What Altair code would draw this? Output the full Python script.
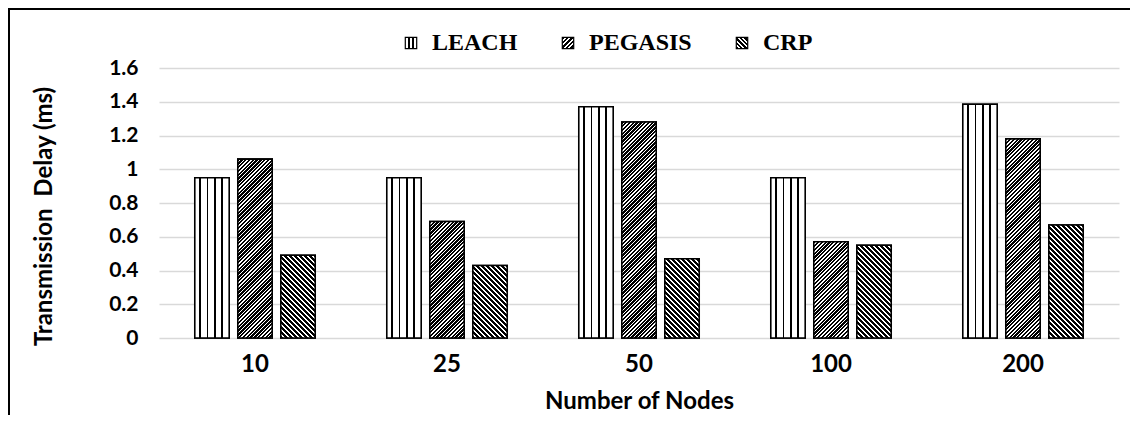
import math
import altair as alt
import pandas as pd

# ---- data ----
nodes = ["10", "25", "50", "100", "200"]
series = ["LEACH", "PEGASIS", "CRP"]
leach = [0.95, 0.95, 1.37, 0.95, 1.385]
pegasis = [1.06, 0.69, 1.28, 0.57, 1.18]
crp = [0.49, 0.43, 0.47, 0.55, 0.67]
y_ticks = [0, 0.2, 0.4, 0.6, 0.8, 1.0, 1.2, 1.4, 1.6]

rows = []
for name, vals in zip(series, [leach, pegasis, crp]):
    for n, v in zip(nodes, vals):
        rows.append({"Nodes": n, "Series": name, "Value": v})
df = pd.DataFrame(rows)

# ---- hatch fills built as hard-stop linear gradients ----
def fmt(v):
    return ("%.5f" % v).rstrip("0").rstrip(".") if isinstance(v, float) else str(v)

def grad_obj(x1, y1, x2, y2, stops):
    s = ",".join("{offset:%s,color:'%s'}" % (fmt(min(o, 1.0)), c) for o, c in stops)
    return "{gradient:'linear',x1:%s,y1:%s,x2:%s,y2:%s,stops:[%s]}" % (x1, y1, x2, y2, s)

def stripe_stops(period, dark, length):
    stops = []
    n = int(math.ceil(length / period))
    for k in range(n):
        a = k * period / length
        b = (k * period + dark * period) / length
        e = (k + 1) * period / length
        stops += [(a, "black"), (b, "black"), (b, "white"), (e, "white")]
    return stops

def line_stops(centers, half):
    stops = [(0.0, "white")]
    for c in centers:
        stops += [(c - half, "white"), (c - half, "black"), (c + half, "black"), (c + half, "white")]
    stops.append((1.0, "white"))
    return stops

L = 360.0
W = "bandwidth('xOffset')"
H = "(scale('y',0)-scale('y',datum.Value))"
C = "(%s/(%s*%s+%s*%s))" % (fmt(L), W, W, H, H)

leach_bar = grad_obj(0, 0, 1, 0, line_stops([0.16, 0.37, 0.58, 0.79], 0.028))
peg_bar = grad_obj(0, 0, "%s*%s" % (C, W), "%s*%s" % (C, H), stripe_stops(3.8, 0.6, L))
crp_bar = grad_obj(0, 1, "%s*%s" % (C, W), "1-%s*%s" % (C, H), stripe_stops(5.0, 0.5, L))

bar_fill = "datum.Series==='LEACH'?%s:(datum.Series==='PEGASIS'?%s:%s)" % (leach_bar, peg_bar, crp_bar)

leach_leg = grad_obj(0, 0, 1, 0, line_stops([0.35, 0.65], 0.08))
peg_leg = grad_obj(0, 0, 1, 1, stripe_stops(4.0, 0.55, 20.0))
crp_leg = grad_obj(0, 1, 1, 0, stripe_stops(4.0, 0.55, 20.0))

x_enc = alt.X(
    "Nodes:N",
    sort=nodes,
    scale=alt.Scale(paddingInner=0.328, paddingOuter=0.164),
    axis=alt.Axis(
        labelAngle=0, domain=False, ticks=False, grid=False,
        labelFont="Lato", labelFontSize=24, labelFontWeight="bold", labelColor="black",
        labelPadding=14,
        title="Number of Nodes", titleFont="Lato", titleFontSize=24, titleFontWeight="bold",
        titleColor="black", titleX=480, titleY=63, titleBaseline="middle", titleAlign="center",
    ),
)
xo_enc = alt.XOffset("Series:N", sort=series, scale=alt.Scale(domain=series, paddingInner=0.2, paddingOuter=0.1))
y_enc = alt.Y(
    "Value:Q",
    stack=None,
    scale=alt.Scale(domain=[0, 1.6], nice=False),
    axis=alt.Axis(
        values=y_ticks, format="~g", grid=True, gridColor="#d9d9d9", gridWidth=1.5,
        domain=False, ticks=False,
        labelFont="Lato", labelFontSize=21, labelFontWeight="bold", labelColor="black", labelPadding=21,
        title="Transmission \u00a0Delay (ms)", titleFont="Lato", titleFontSize=24, titleFontWeight="bold",
        titleColor="black", titleX=-115, titleY=148, titleAngle=-90, titleBaseline="middle",
        titleAlign="center",
    ),
)

base_bars = alt.Chart(df).mark_bar(stroke="black", strokeWidth=1.6).encode(
    x=x_enc,
    xOffset=xo_enc,
    y=y_enc,
    color=alt.Color(
        "Series:N",
        sort=series,
        scale=alt.Scale(domain=series, range=[{"expr": leach_leg}, {"expr": peg_leg}, {"expr": crp_leg}]),
        legend=alt.Legend(
            title=None, orient="none", direction="horizontal", legendX=240, legendY=-37,
            symbolType="square", symbolSize=130, symbolStrokeColor="black", symbolStrokeWidth=1.2,
            symbolOpacity=1,
            labelFont="Liberation Serif", labelFontSize=24, labelFontWeight="bold", labelColor="black",
            labelOffset=9, columnPadding=38, padding=0,
        ),
    ),
)

hatch_bars = alt.Chart(df).mark_bar(stroke="black", strokeWidth=1.6, fill={"expr": bar_fill}).encode(
    x=x_enc,
    xOffset=xo_enc,
    y=y_enc,
)

frame = alt.Chart(alt.Data(values=[{}])).mark_rect(
    fill="transparent", stroke="black", strokeWidth=2
).encode(
    x=alt.value(-150), x2=alt.value(2000), y=alt.value(-59), y2=alt.value(1000)
)

chart = alt.layer(base_bars, hatch_bars, frame).properties(
    width=960,
    height=270,
    autosize=alt.AutoSizeParams(type="none"),
    padding={"left": 151, "top": 60, "right": 11, "bottom": 77},
).configure_view(strokeWidth=0)

chart.save("out.html", embed_options={"renderer": "svg", "actions": False})
